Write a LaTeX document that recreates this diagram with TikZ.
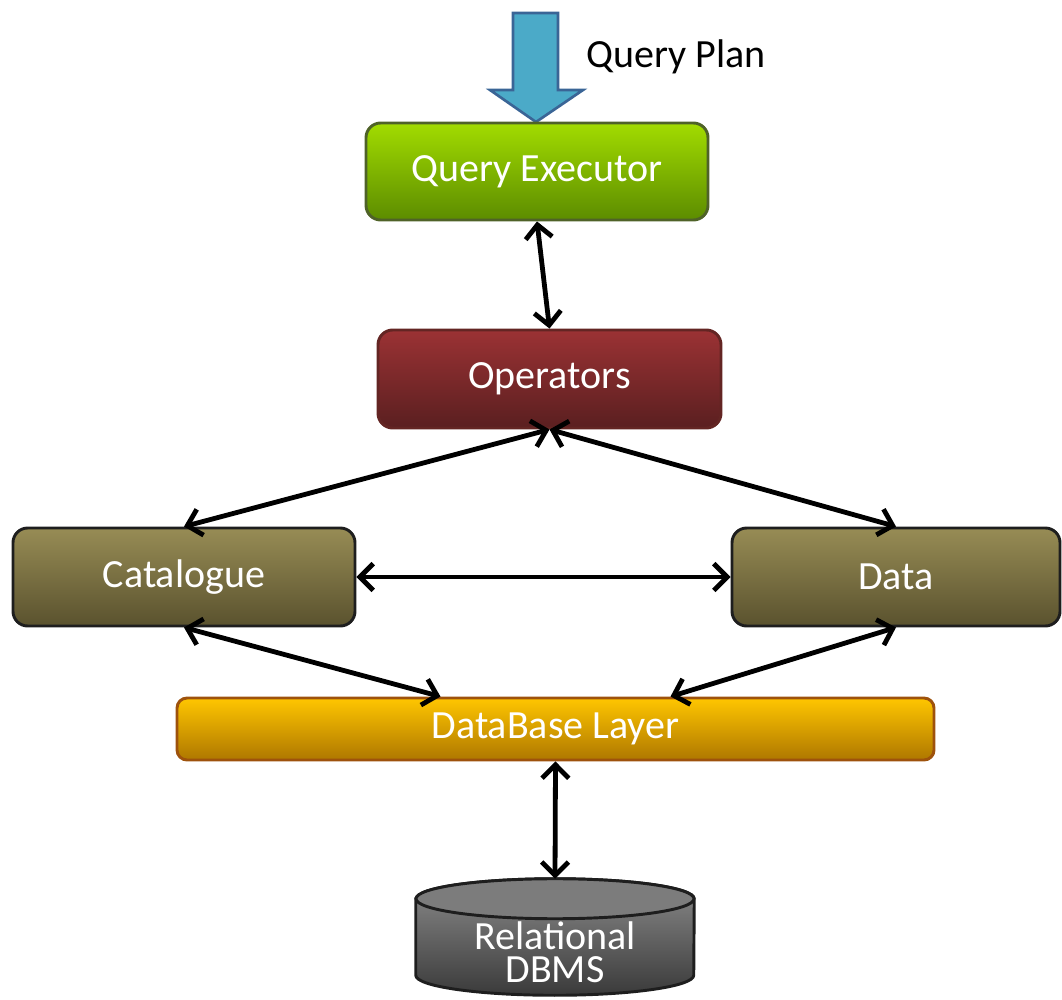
\documentclass[tikz,border=0pt]{standalone}
\usepackage{fontspec}
\setmainfont{Carlito}
\usetikzlibrary{arrows.meta,calc,backgrounds}

\definecolor{qetop}{HTML}{A2DC00}
\definecolor{qebot}{HTML}{5C8C00}
\definecolor{qeline}{HTML}{4F6228}
\definecolor{optop}{HTML}{9B3234}
\definecolor{opbot}{HTML}{5A1F20}
\definecolor{opline}{HTML}{632523}
\definecolor{ctop}{HTML}{978C55}
\definecolor{cbot}{HTML}{5A522E}
\definecolor{cline}{HTML}{1E1E1E}
\definecolor{dbtop}{HTML}{FFC600}
\definecolor{dbbot}{HTML}{AE7700}
\definecolor{dbline}{HTML}{9E520C}
\definecolor{cyltop}{HTML}{8C8C8C}
\definecolor{cylbot}{HTML}{3A3A3A}
\definecolor{cyllid}{HTML}{7C7C7C}
\definecolor{planfill}{HTML}{4BAAC8}
\definecolor{planline}{HTML}{3A6596}

\tikzset{
  label font/.style={font=\fontsize{30}{25}\selectfont},
  box/.style={rectangle, rounded corners=11pt, line width=2.2pt,
    text=white, label font, inner sep=0pt},
  link/.style={line width=3.6pt, {Straight Barb[length=10pt,width=20pt]}-{Straight Barb[length=10pt,width=20pt]}},
}

\begin{document}
\begin{tikzpicture}[x=0.75pt, y=-0.75pt]
\useasboundingbox (0,0) rectangle (1062,999);

% incoming query plan arrow
\draw[line width=2pt, draw=planline, fill=planfill, line join=miter]
  (513,13) -- (558,13) -- (558,90) -- (583,90) -- (536,122) -- (490,90) -- (513,90) -- cycle;
\node[label font, anchor=west] (plan) at (582,57) {Query Plan};

% processing boxes
\node[box, draw=qeline, top color=qetop, bottom color=qebot,
      minimum width=256.5pt, minimum height=72.75pt] (qe) at (537,171.5) {Query Executor};
\node[box, draw=opline, top color=optop, bottom color=opbot,
      minimum width=257.25pt, minimum height=73.5pt] (ops) at (549.5,379) {Operators};
\node[box, draw=cline, top color=ctop, bottom color=cbot,
      minimum width=256.5pt, minimum height=73.5pt] (cat) at (184,577) {Catalogue};
\node[box, draw=cline, top color=ctop, bottom color=cbot,
      minimum width=246pt, minimum height=73.5pt] (data) at (896,577) {Data};
\node[box, rounded corners=7.5pt, draw=dbline, top color=dbtop, bottom color=dbbot,
      minimum width=567.75pt, minimum height=46.5pt] (db) at (555.5,729) {DataBase Layer};

% relational DBMS cylinder: text node, body drawn behind it
% (node spans from the lid centre down; the body ends 30 units above its south side)
\node[rectangle, inner sep=0pt, minimum width=208.5pt, minimum height=79.5pt,
      text=white, label font, align=center] (dbms) at (555,952) {Relational\\DBMS};
\begin{scope}[on background layer]
\draw[line width=2.2pt, draw=cline, top color=cyltop, bottom color=cylbot]
  (dbms.north west) -- ($(dbms.south west)+(0,-30)$)
  arc[start angle=180, end angle=360, x radius=104.25pt, y radius=15pt]
  -- (dbms.north east)
  arc[start angle=0, end angle=180, x radius=104.25pt, y radius=15pt] -- cycle;
\draw[line width=2.2pt, draw=cline, fill=cyllid] (dbms.north) ellipse[x radius=104.25pt, y radius=15pt];
\end{scope}

% connectors
\coordinate (dbin1) at ($(db.north)+(-115,0)$);
\coordinate (dbin2) at ($(db.north)+(115,0)$);
\coordinate (lid) at ($(dbms.north)+(0,-20)$);
\draw[link] (qe.south) -- (ops.north);
\draw[link] (ops.south) -- (cat.north);
\draw[link] (ops.south) -- (data.north);
\draw[link] (cat.east) -- (data.west);
\draw[link] (cat.south) -- (dbin1);
\draw[link] (data.south) -- (dbin2);
\draw[link] (db.south) -- (lid);
\end{tikzpicture}
\end{document}
